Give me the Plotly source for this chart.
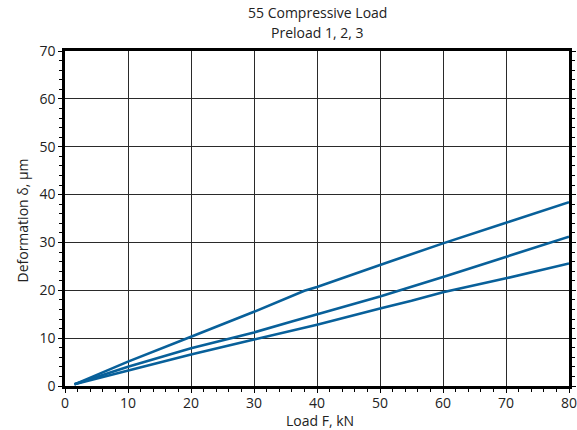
import plotly.graph_objects as go

# Data
load_upper = [1.5, 10, 20, 30, 38, 40, 50, 60, 70, 80]
defl_upper = [0.35, 5.1, 10.3, 15.5, 19.9, 20.7, 25.3, 29.8, 34.1, 38.4]

load_middle = [1.5, 10, 20, 30, 36, 40, 50, 60, 70, 80]
defl_middle = [0.35, 4.0, 7.9, 11.2, 13.5, 15.0, 18.7, 22.8, 27.0, 31.2]

load_lower = [1.5, 10, 20, 30, 40, 50, 55, 60, 70, 80]
defl_lower = [0.35, 3.2, 6.6, 9.7, 12.8, 16.2, 17.8, 19.6, 22.5, 25.6]

x_ticks = [0, 10, 20, 30, 40, 50, 60, 70, 80]
y_ticks = [0, 10, 20, 30, 40, 50, 60, 70]

title_lines = ["55 Compressive Load", "Preload 1, 2, 3"]
x_title = "Load F, kN"
y_title = "Deformation δ, µm"

LINE_COLOR = "#08609a"
FONT = "Open Sans"
TEXT = "#222222"

W, H = 577, 430
ML, MR, MT, MB = 65, 8, 51, 44

fig = go.Figure()
for xs, ys, name in [(load_upper, defl_upper, "Preload 3"),
                     (load_middle, defl_middle, "Preload 2"),
                     (load_lower, defl_lower, "Preload 1")]:
    fig.add_trace(go.Scatter(x=xs, y=ys, mode="lines", name=name,
                             line=dict(color=LINE_COLOR, width=2.6)))

axis_common = dict(
    automargin=False,
    showgrid=True, gridcolor="#2a2a2a", gridwidth=1,
    showline=True, linecolor="#000000", linewidth=2.5,
    zeroline=False,
    ticks="outside", ticklen=4, tickwidth=1.2, tickcolor="#000000",
    tickfont=dict(family=FONT, size=14, color=TEXT),
    ticklabeloverflow="allow",
    minor=dict(ticks="outside", ticklen=3, tickwidth=1, tickcolor="#000000",
               dtick=2, showgrid=False),
)

fig.update_xaxes(range=[0, 80], tickvals=x_ticks, mirror=True,
                 ticklabelstandoff=-2, **axis_common)
fig.update_yaxes(range=[0, 70], tickvals=y_ticks, mirror="allticks", **axis_common)

annotations = [
    dict(text=title_lines[0], x=0.5, y=1, xref="paper", yref="paper",
         xanchor="center", yanchor="middle", yshift=39, showarrow=False,
         font=dict(family=FONT, size=14, color=TEXT)),
    dict(text=title_lines[1], x=0.5, y=1, xref="paper", yref="paper",
         xanchor="center", yanchor="middle", yshift=19, showarrow=False,
         font=dict(family=FONT, size=14, color=TEXT)),
    dict(text=x_title, x=0.5, y=0, xref="paper", yref="paper",
         xanchor="center", yanchor="middle", yshift=-34, xshift=3, showarrow=False,
         font=dict(family=FONT, size=14, color=TEXT)),
    dict(text=y_title, x=0, y=0.5, xref="paper", yref="paper",
         xanchor="center", yanchor="middle", xshift=-43, yshift=-2, textangle=-90,
         showarrow=False, font=dict(family=FONT, size=14, color=TEXT)),
]

fig.update_layout(
    width=W, height=H,
    margin=dict(l=ML, r=MR, t=MT, b=MB, autoexpand=False),
    paper_bgcolor="white", plot_bgcolor="white",
    showlegend=False,
    annotations=annotations,
)

fig.write_html("out.html", config={"displayModeBar": False},
               post_script="document.body.style.margin='0';document.body.style.overflow='hidden';")
